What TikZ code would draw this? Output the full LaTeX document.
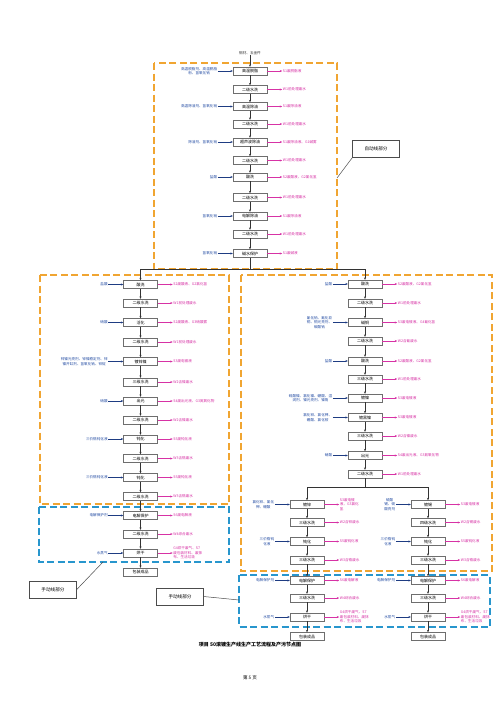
\documentclass[tikz,border=0pt]{standalone}
\usepackage{fontspec}
\setmainfont{Noto Sans CJK SC}
\usetikzlibrary{arrows.meta,positioning}
\definecolor{inblue}{RGB}{40,80,165}
\definecolor{arrblue}{RGB}{30,60,130}
\definecolor{outpink}{RGB}{215,50,165}
\definecolor{dorange}{RGB}{240,165,50}
\definecolor{dblue}{RGB}{40,150,205}
\definecolor{boxgray}{RGB}{110,110,110}
\newcommand\pbx[4]{\node[pbox] (#1) at (#2,#3) {#4};}
\newcommand\pin[2]{\node[intext,left=15pt of #1] (#1i) {#2};\draw[inarrow] (#1i.east) -- (#1.west);}
\newcommand\pout[2]{\node[outtext,right=15pt of #1] (#1o) {#2};\draw[outarrow] (#1.east) -- (#1o.west);}
\begin{document}
\begin{tikzpicture}[x=1pt,y=-1pt,
  pbox/.style={draw=boxgray,line width=0.4pt,fill=white,minimum width=34pt,minimum height=8pt,inner sep=0pt,font=\fontsize{4}{4.5}\selectfont},
  intext/.style={text=inblue,inner sep=0.5pt,align=center,font=\fontsize{3.6}{4.4}\selectfont},
  outtext/.style={text=outpink,inner sep=0.5pt,align=left,font=\fontsize{3.6}{4.4}\selectfont},
  inarrow/.style={draw=arrblue,line width=0.5pt,-{Stealth[length=2.4pt,width=2pt]}},
  outarrow/.style={draw=outpink,line width=0.5pt,-{Stealth[length=2.4pt,width=2pt]}},
  flow/.style={draw=black!80,line width=0.6pt,-{Stealth[length=2.4pt,width=2pt]}},
  flowline/.style={draw=black!80,line width=0.6pt},
  odash/.style={draw=dorange,line width=1.1pt,dash pattern=on 7pt off 3.5pt},
  bdash/.style={draw=dblue,line width=1.1pt,dash pattern=on 7pt off 3.5pt},
  lbl/.style={draw=black!70,line width=0.5pt,fill=white,minimum width=47pt,minimum height=17pt,inner sep=1pt,font=\fontsize{4.6}{5}\selectfont},
  lline/.style={draw=black!70,line width=0.5pt}
]
\useasboundingbox (0,0) rectangle (500,707);
\fill[white] (0,0) rectangle (500,707);

% dashed regions
\draw[odash] (154,63) rectangle (337,269);
\draw[odash] (40,275) rectangle (229,504);
\draw[bdash] (39,507) rectangle (229,562);
\draw[odash] (241,275) rectangle (492,571);
\draw[bdash] (239,575) rectangle (490,627);

% top input
\node[intext,text=black!80] (src) at (250,53) {钢材、五金件};

% top chain
\pbx{T1}{250}{71}{高温脱脂}
\pbx{T2}{250}{89.5}{二级水洗}
\pbx{T3}{250}{106.5}{高温除油}
\pbx{T4}{250}{124}{二级水洗}
\pbx{T5}{250}{142}{超声波除油}
\pbx{T6}{250}{160.5}{二级水洗}
\pbx{T7}{250}{177}{酸洗}
\pbx{T8}{250}{197.5}{二级水洗}
\pbx{T9}{250}{216}{电解除油}
\pbx{T10}{250}{234}{二级水洗}
\pbx{T11}{250}{253.5}{碱水保护}
\pin{T1}{高温脱脂剂、高温脱脂\\粉、氢氧化钠}
\pin{T3}{高温除油剂、氢氧化钠}
\pin{T5}{除油剂、氢氧化钠}
\pin{T7}{盐酸}
\pin{T9}{氢氧化钠}
\pin{T11}{氢氧化钠}
\pout{T1}{S1废脱脂液}
\pout{T2}{W1前处理废水}
\pout{T3}{S1废除油液}
\pout{T4}{W1前处理废水}
\pout{T5}{S1废除油液、G1碱雾}
\pout{T6}{W1前处理废水}
\pout{T7}{S2废酸液、G2氯化氢}
\pout{T8}{W1前处理废水}
\pout{T9}{S1废除油液}
\pout{T10}{W1前处理废水}
\pout{T11}{S1废碱液}
\draw[flow] (src) -- (T1);
\foreach \a/\b in {T1/T2,T2/T3,T3/T4,T4/T5,T5/T6,T6/T7,T7/T8,T8/T9,T9/T10,T10/T11}
  \draw[flow] (\a) -- (\b);

% left chain
\pbx{L1}{140.5}{284.5}{酸洗}
\pbx{L2}{140.5}{303}{二级水洗}
\pbx{L3}{140.5}{322.5}{活化}
\pbx{L4}{140.5}{342}{二级水洗}
\pbx{L5}{140.5}{361.5}{镀锌镍}
\pbx{L6}{140.5}{382}{三级水洗}
\pbx{L7}{140.5}{401}{出光}
\pbx{L8}{140.5}{420}{二级水洗}
\pbx{L9}{140.5}{439}{钝化}
\pbx{L10}{140.5}{458.5}{二级水洗}
\pbx{L11}{140.5}{477.5}{钝化}
\pbx{L12}{140.5}{496.5}{二级水洗}
\pbx{L13}{140.5}{515.5}{电解保护}
\pbx{L14}{140.5}{534}{二级水洗}
\pbx{L15}{140.5}{553}{烘干}
\pbx{L16}{140.5}{572}{包装成品}
\pin{L1}{盐酸}
\pin{L3}{硝酸}
\pin{L5}{锌镍光亮剂、锌镍稳定剂、锌\\镍开缸剂、氢氧化钠、锌锭}
\pin{L7}{硝酸}
\pin{L9}{三价铬钝化液}
\pin{L11}{三价铬钝化液}
\pin{L13}{电解保护剂}
\pin{L15}{水蒸气}
\pout{L1}{S2废酸液、G2氯化氢}
\pout{L2}{W1前处理废水}
\pout{L3}{S2废酸液、G3硝酸雾}
\pout{L4}{W1前处理废水}
\pout{L5}{S3废电镀液}
\pout{L6}{W2含镍废水}
\pout{L7}{S4废出光液、G3氮氧化物}
\pout{L8}{W2含镍废水}
\pout{L9}{S5废钝化液}
\pout{L10}{W3含铬废水}
\pout{L11}{S5废钝化液}
\pout{L12}{W3含铬废水}
\pout{L13}{S6废电解液}
\pout{L14}{W4综合废水}
\pout{L15}{G4烘干废气、S7\\废包装材料、废抹\\布、生活垃圾}
\foreach \a/\b in {L1/L2,L2/L3,L3/L4,L4/L5,L5/L6,L6/L7,L7/L8,L8/L9,L9/L10,L10/L11,L11/L12,L12/L13,L13/L14,L14/L15,L15/L16}
  \draw[flow] (\a) -- (\b);

% right chain
\pbx{R1}{365}{284}{酸洗}
\pbx{R2}{365}{303}{二级水洗}
\pbx{R3}{365}{322.5}{碱铜}
\pbx{R4}{365}{341}{二级水洗}
\pbx{R5}{365}{361}{酸洗}
\pbx{R6}{365}{379}{三级水洗}
\pbx{R7}{365}{398}{镀镍}
\pbx{R8}{365}{417.5}{镀黑镍}
\pbx{R9}{365}{436}{三级水洗}
\pbx{R10}{365}{455.5}{出光}
\pbx{R11}{365}{474}{二级水洗}
\pin{R1}{盐酸}
\pin{R3}{氰化钠、氰化亚\\铜、铜光亮剂、\\碳酸钠}
\pin{R5}{盐酸}
\pin{R7}{硫酸镍、氯化镍、硼酸、湿\\润剂、镍光亮剂、镍角}
\pin{R8}{氯化锌、氯化钾、\\硼酸、氯化铵}
\pin{R10}{硝酸}
\pout{R1}{S2废酸液、G2氯化氢}
\pout{R2}{W1前处理废水}
\pout{R3}{S3废电镀液、G4氰化氢}
\pout{R4}{W2含氰废水}
\pout{R5}{S2废酸液、G2氯化氢}
\pout{R6}{W1前处理废水}
\pout{R7}{S3废电镀液}
\pout{R8}{S3废电镀液}
\pout{R9}{W2含镍废水}
\pout{R10}{S4废出光液、G3氮氧化物}
\pout{R11}{W1前处理废水}
\foreach \a/\b in {R1/R2,R2/R3,R3/R4,R4/R5,R5/R6,R6/R7,R7/R8,R8/R9,R9/R10,R10/R11}
  \draw[flow] (\a) -- (\b);

% sub-branch A
\pbx{A1}{307}{504.5}{镀锌}
\pbx{A2}{307}{522.5}{三级水洗}
\pbx{A3}{307}{541.5}{钝化}
\pbx{A4}{307}{560}{三级水洗}
\pbx{A5}{307}{580.5}{电解保护}
\pbx{A6}{307}{598}{三级水洗}
\pbx{A7}{307}{617}{烘干}
\pbx{A8}{307}{636.5}{包装成品}
\pin{A1}{氯化锌、氯化\\钾、硼酸}
\pin{A3}{三价铬钝\\化液}
\pin{A5}{电解保护剂}
\pin{A7}{水蒸气}
\pout{A1}{S3废电镀\\液、G3氯化\\氢}
\pout{A2}{W2含锌废水}
\pout{A3}{S5废钝化液}
\pout{A4}{W3含铬废水}
\pout{A5}{S6废电解液}
\pout{A6}{W4综合废水}
\pout{A7}{G4烘干废气、S7\\废包装材料、废抹\\布、生活垃圾}
\foreach \a/\b in {A1/A2,A2/A3,A3/A4,A4/A5,A5/A6,A6/A7,A7/A8}
  \draw[flow] (\a) -- (\b);

% sub-branch B
\pbx{B1}{428}{504.5}{镀锡}
\pbx{B2}{428}{522.5}{四级水洗}
\pbx{B3}{428}{541.5}{钝化}
\pbx{B4}{428}{560}{三级水洗}
\pbx{B5}{428}{580.5}{电解保护}
\pbx{B6}{428}{598}{三级水洗}
\pbx{B7}{428}{617}{烘干}
\pbx{B8}{428}{636.5}{包装成品}
\pin{B1}{硫酸\\锡、硫\\酸亮剂}
\pin{B3}{三价铬钝\\化液}
\pin{B5}{电解保护剂}
\pin{B7}{水蒸气}
\pout{B1}{S3废电镀液}
\pout{B2}{W2含锡废水}
\pout{B3}{S5废钝化液}
\pout{B4}{W3含铬废水}
\pout{B5}{S6废电解液}
\pout{B6}{W4综合废水}
\pout{B7}{G4烘干废气、S7\\废包装材料、废抹\\布、生活垃圾}
\foreach \a/\b in {B1/B2,B2/B3,B3/B4,B4/B5,B5/B6,B6/B7,B7/B8}
  \draw[flow] (\a) -- (\b);

% splits
\coordinate (sp1) at (250,269);
\draw[flowline] (T11) -- (sp1);
\draw[flow] (sp1) -| (L1);
\draw[flow] (sp1) -| (R1);
\coordinate (sp2) at (365,487);
\draw[flowline] (R11) -- (sp2);
\draw[flow] (sp2) -| (A1);
\draw[flow] (sp2) -| (B1);

% labels
\node[lbl] (auto) at (376,149) {自动线部分};
\coordinate (autoP) at (337,178);
\draw[lline] (auto.south west) -- (autoP);
\node[lbl] (manL) at (53,589.5) {手动线部分};
\coordinate (manLP) at (103,562);
\draw[lline] (manL.east) -- (manLP);
\node[lbl] (manR) at (180,596.5) {手动线部分};
\coordinate (manRP) at (239,600);
\draw[lline] (manR.east) -- (manRP);

% caption
\node[font=\bfseries\fontsize{5}{6}\selectfont] (cap) at (250,645) {项目 50滚镀生产线生产工艺流程及产污节点图};
\node[font=\fontsize{4.6}{5}\selectfont] (page) at (250,678) {第 5 页};
\end{tikzpicture}
\end{document}
